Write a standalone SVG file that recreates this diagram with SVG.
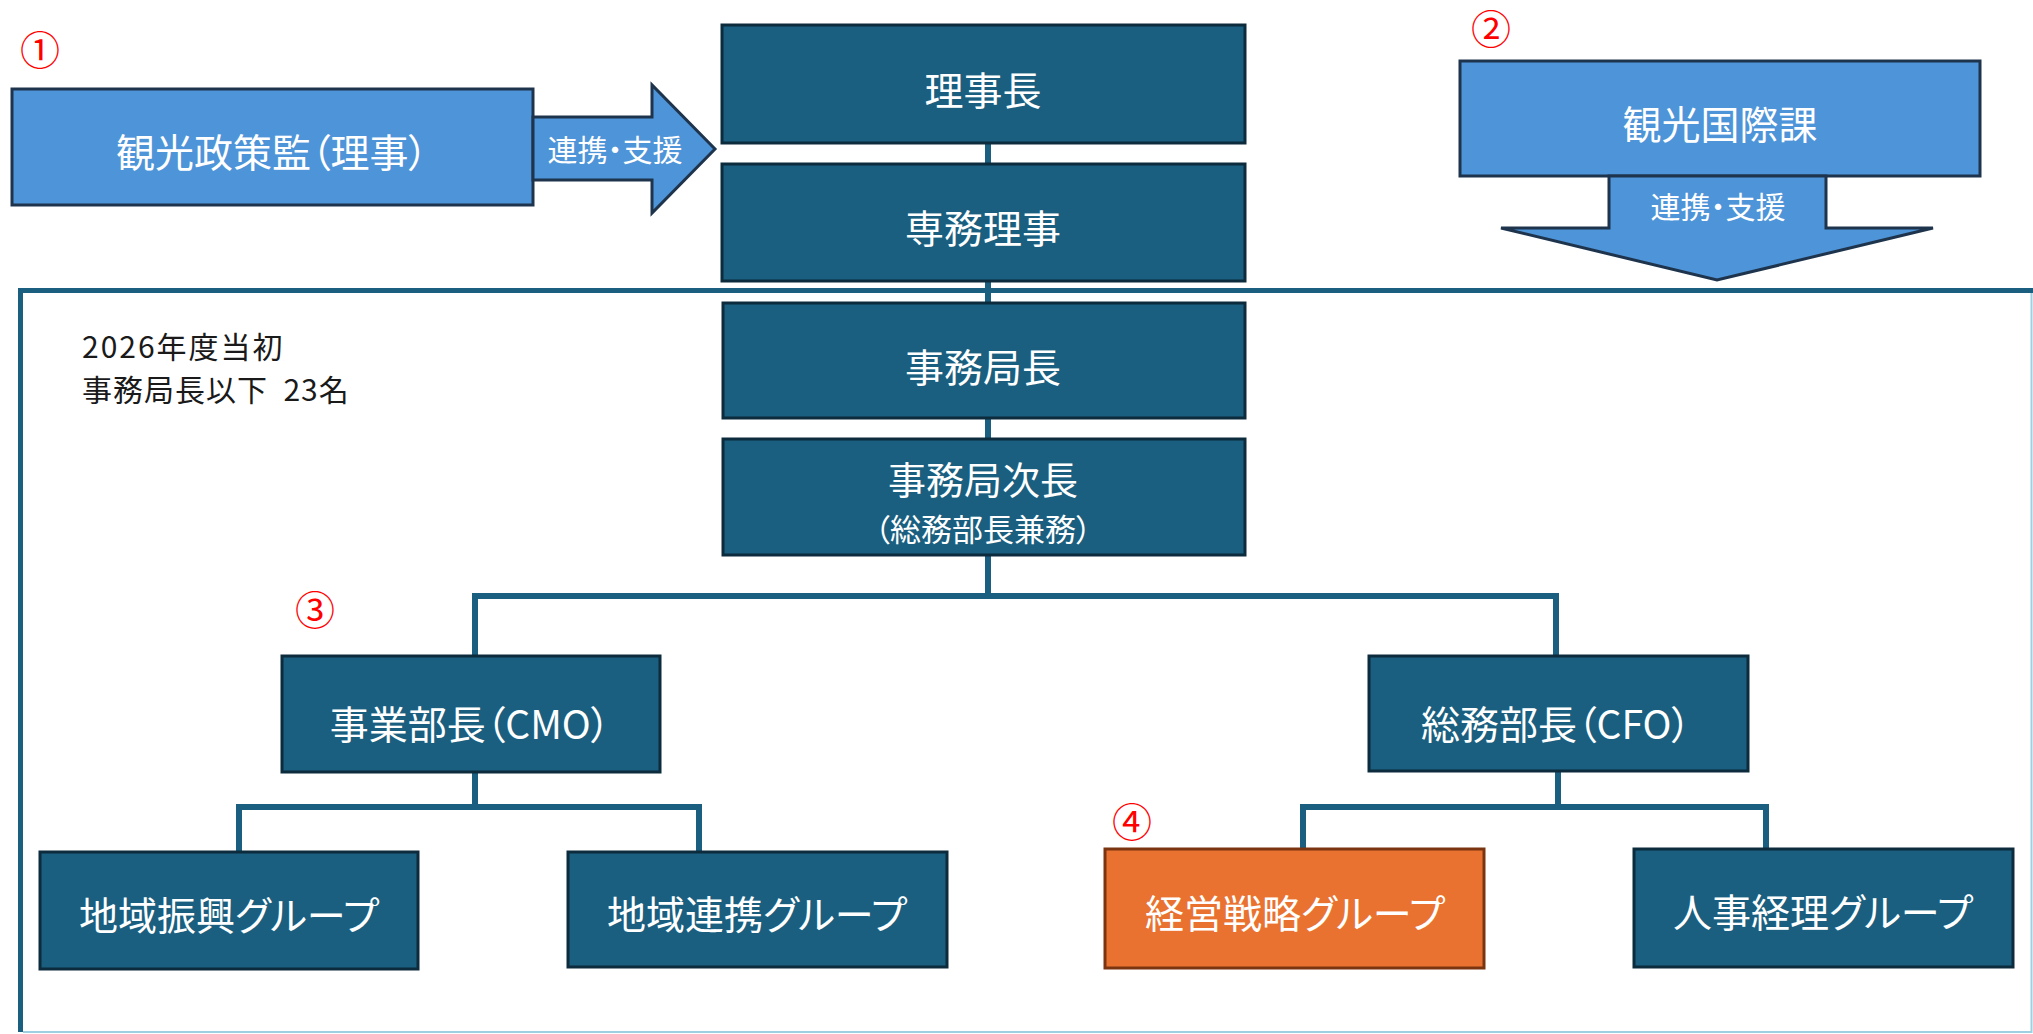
<svg xmlns="http://www.w3.org/2000/svg" width="2033" height="1034" viewBox="0 0 2033 1034">
<style>
  .dk { fill:#1A5F80; stroke:#0C2B3C; stroke-width:3; }
  .lb { fill:#4E94D8; stroke:#1E344D; stroke-width:3; }
  .or { fill:#E97230; stroke:#7A3410; stroke-width:3; }
  .t { font-family:"Noto Sans CJK JP","Noto Sans",sans-serif; fill:#FFFFFF; text-anchor:middle; dominant-baseline:central; font-size:39px; font-feature-settings:"palt"; }
  .ts { font-size:30px; }
  .t2 { font-size:38px; }
  .tm { font-size:31px; }
  .num { font-family:"Noto Sans CJK JP","Noto Sans",sans-serif; fill:#FF0000; text-anchor:middle; dominant-baseline:central; font-size:40px; }
  .note { font-family:"Noto Sans CJK JP","Noto Sans",sans-serif; fill:#1A1A1A; font-size:30px; white-space:pre; }
  .cn { fill:none; stroke:#1A5F80; stroke-width:6; }
</style>
<rect x="0" y="0" width="2033" height="1034" fill="#FFFFFF"/>

<g id="container">
  <path d="M20.5,1032 V290.5 H2033" fill="none" stroke="#1A5F80" stroke-width="5"/>
  <path d="M23,1032 H2031.5 V293" fill="none" stroke="#9FD0E2" stroke-width="2"/>
</g>

<g id="connectors">
  <path class="cn" d="M988,143 V164"/>
  <path class="cn" d="M988,281 V303"/>
  <path class="cn" d="M988,418 V439"/>
  <path class="cn" d="M988,555 V596"/>
  <path class="cn" d="M475,656 V596 H1556 V656"/>
  <path class="cn" d="M475,772 V807"/>
  <path class="cn" d="M239,852 V807 H699 V852"/>
  <path class="cn" d="M1558,771 V807"/>
  <path class="cn" d="M1303,849 V807 H1766 V849"/>
</g>

<g id="n-kankoseisakukan">
  <rect class="lb" x="12" y="89" width="521" height="116"/>
  <text class="t" x="272" y="150">観光政策監（理事）</text>
</g>
<g id="arrow-right">
  <path class="lb" d="M533,117 H652 V85 L715,149 L652,213 V180 H533 Z"/>
  <text class="t ts" x="615" y="148">連携・支援</text>
</g>
<g id="n-kankokokusaika">
  <rect class="lb" x="1460" y="61" width="520" height="115"/>
  <text class="t" x="1720" y="122">観光国際課</text>
</g>
<g id="arrow-down">
  <path class="lb" d="M1609,176 H1826 V228 H1933 L1717,280 L1501,228 H1609 Z"/>
  <text class="t ts" x="1718" y="205">連携・支援</text>
</g>

<g id="n-rijicho">
  <rect class="dk" x="722" y="25" width="523" height="118"/>
  <text class="t" x="983" y="88">理事長</text>
</g>
<g id="n-semmuriji">
  <rect class="dk" x="722" y="164" width="523" height="117"/>
  <text class="t" x="983" y="226">専務理事</text>
</g>
<g id="n-jimukyokucho">
  <rect class="dk" x="723" y="303" width="522" height="115"/>
  <text class="t" x="983" y="365">事務局長</text>
</g>
<g id="n-jimukyokujicho">
  <rect class="dk" x="723" y="439" width="522" height="116"/>
  <text class="t t2" x="983" y="477">事務局次長</text>
  <text class="t tm" x="983" y="527">（総務部長兼務）</text>
</g>
<g id="n-jigyobucho">
  <rect class="dk" x="282" y="656" width="378" height="116"/>
  <text class="t" x="470" y="722">事業部長（CMO）</text>
</g>
<g id="n-somubucho">
  <rect class="dk" x="1369" y="656" width="379" height="115"/>
  <text class="t" x="1556" y="722">総務部長（CFO）</text>
</g>
<g id="n-chiikishinko">
  <rect class="dk" x="40" y="852" width="378" height="117"/>
  <text class="t" x="229" y="913">地域振興グループ</text>
</g>
<g id="n-chiikirenkei">
  <rect class="dk" x="568" y="852" width="379" height="115"/>
  <text class="t" x="757" y="912">地域連携グループ</text>
</g>
<g id="n-keieisenryaku">
  <rect class="or" x="1105" y="849" width="379" height="119"/>
  <text class="t" x="1295" y="911">経営戦略グループ</text>
</g>
<g id="n-jinjikeiri">
  <rect class="dk" x="1634" y="849" width="379" height="118"/>
  <text class="t" x="1823" y="910">人事経理グループ</text>
</g>

<g id="labels">
  <text class="note" x="82" y="358" letter-spacing="2">2026年度当初</text>
  <text class="note" x="82" y="401" letter-spacing="1">事務局長以下  23名</text>
  <text class="num" x="40" y="48">①</text>
  <text class="num" x="1491" y="27">②</text>
  <text class="num" x="315" y="608">③</text>
  <text class="num" x="1132" y="820">④</text>
</g>
</svg>
